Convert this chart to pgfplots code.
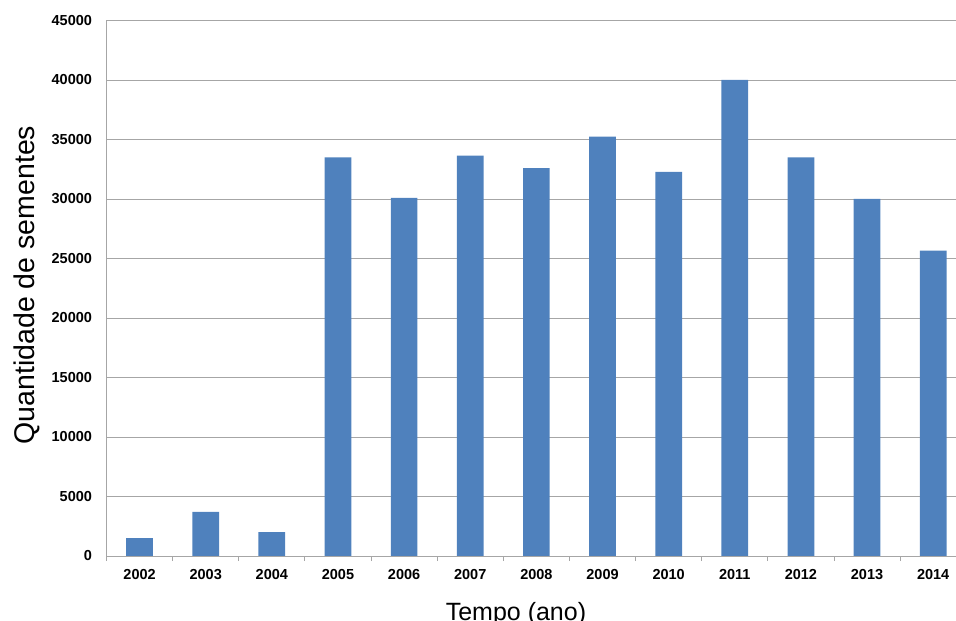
\documentclass[border=0pt]{standalone}
\usepackage{pgfplots}
\pgfplotsset{compat=1.18}
\usepackage{fontspec}
\setmainfont{Liberation Sans}
\definecolor{barblue}{HTML}{4F81BD}
\definecolor{gridgray}{HTML}{A6A6A6}
\begin{document}
\begin{tikzpicture}[x=1pt,y=1pt]
\useasboundingbox (0,0) rectangle (956,621);
\begin{axis}[
  at={(106.5pt,65pt)}, anchor=south west,
  scale only axis, width=849.5pt, height=535.5pt,
  xmin=-0.5, xmax=12.345, ymin=0, ymax=45000,
  clip=false,
  axis x line*=bottom, axis y line*=left,
  axis line style={gridgray, line width=0.9pt, -},
  ytick={0,5000,...,45000},
  scaled y ticks=false,
  /pgf/number format/assume math mode=true,
  /pgf/number format/1000 sep={},
  yticklabel style={font=\bfseries\fontsize{14.5}{14.5}\selectfont, xshift=-6pt},
  ymajorgrids, grid style={gridgray, line width=0.9pt},
  y tick style={draw=none},
  xtick={-0.5,0.5,...,11.5},
  xticklabels={},
  tick align=outside,
  x tick style={gridgray, line width=0.9pt},
  major tick length=5pt,
  extra x ticks={0,1,2,3,4,5,6,7,8,9,10,11,12},
  extra x tick labels={2002,2003,2004,2005,2006,2007,2008,2009,2010,2011,2012,2013,2014},
  extra x tick style={tick style={draw=none}, xticklabel style={font=\bfseries\fontsize{14.5}{14.5}\selectfont, yshift=-5pt}},
  xlabel={Tempo (ano)},
  xlabel style={at={(axis description cs:0.482,-0.1085)}, anchor=center, font=\fontsize{25}{25}\selectfont},
  ylabel={Quantidade de sementes},
  ylabel style={at={(axis description cs:-0.0936,0.506)}, anchor=center, rotate=0, font=\fontsize{28.5}{28.5}\selectfont},
]
\addplot[ybar, bar width=26.7pt, fill=barblue, draw=none] coordinates {
  (0,1500) (1,3700) (2,2000) (3,33500) (4,30100) (5,33650) (6,32600)
  (7,35250) (8,32270) (9,40000) (10,33500) (11,30000) (12,25670)
};
\end{axis}
\end{tikzpicture}
\end{document}
